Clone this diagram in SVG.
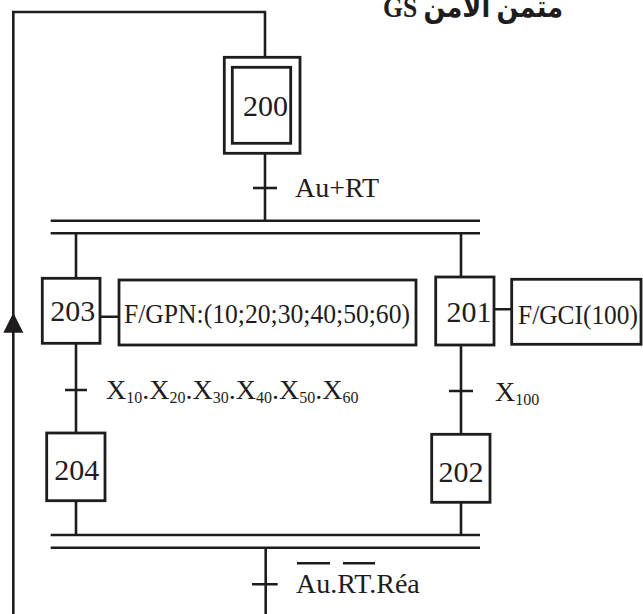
<svg xmlns="http://www.w3.org/2000/svg" width="643" height="614" viewBox="0 0 643 614">
<style>
.ln{stroke:#1f1c1d;stroke-width:2.6;fill:none}
.box{fill:#fff;stroke:#1f1c1d;stroke-width:2.8}
.t{font-family:"Liberation Serif","Times New Roman",serif;font-size:28px;fill:#1f1c1d}
.num{font-size:30px}
.sub{font-size:16px}
.title{font-family:"Liberation Serif","DejaVu Sans",serif;font-size:30px;font-weight:bold;fill:#1f1c1d}
</style>
<rect width="643" height="614" fill="#fff"/>
<g id="title">
<text class="title" x="563" y="17" direction="rtl" text-anchor="start" textLength="180" lengthAdjust="spacingAndGlyphs">متمن الأمن GS</text>
</g>
<g id="connectors">
<path class="ln" d="M13.3,614 V12 H265 V57.3"/>
<polygon points="13.3,312.7 3.3,332.7 23.3,332.7" fill="#1f1c1d"/>
<path class="ln" d="M265,153.3 V220.7"/>
<path class="ln" d="M253,188 H277"/>
<path class="ln" d="M50.7,220.7 H480 M50.7,233.3 H480"/>
<path class="ln" d="M76,233.3 V278.3 M461,233.3 V277"/>
<path class="ln" d="M100,316.7 H119 M494,309.3 H511.7"/>
<path class="ln" d="M76,343.3 V433 M65,390 H87"/>
<path class="ln" d="M461,345 V434.3 M449,391 H473"/>
<path class="ln" d="M76,500.7 V535 M461,502.3 V535"/>
<path class="ln" d="M50.7,535 H480 M50.7,547.7 H480"/>
<path class="ln" d="M265.7,547.7 V614 M252,584.3 H277.7"/>
</g>
<g id="step200">
<rect class="box" x="224.3" y="57.3" width="75.7" height="96"/>
<rect class="box" x="232.3" y="67.3" width="58.4" height="76"/>
<text class="t num" x="265.5" y="116" text-anchor="middle">200</text>
</g>
<g id="t200">
<text class="t" x="295" y="197">Au+RT</text>
</g>
<g id="step203">
<rect class="box" x="42.3" y="278.3" width="57.7" height="65"/>
<text class="t num" x="72.7" y="321" text-anchor="middle">203</text>
</g>
<g id="action203">
<rect class="box" x="119" y="280" width="297" height="65"/>
<text class="t" x="124" y="323" textLength="286" lengthAdjust="spacingAndGlyphs">F/GPN:(10;20;30;40;50;60)</text>
</g>
<g id="step201">
<rect class="box" x="435.7" y="277" width="58.3" height="68"/>
<text class="t num" x="469" y="321.7" text-anchor="middle">201</text>
</g>
<g id="action201">
<rect class="box" x="511.7" y="279.3" width="129.3" height="65"/>
<text class="t" x="518" y="324" textLength="120" lengthAdjust="spacingAndGlyphs">F/GCI(100)</text>
</g>
<g id="t203">
<text class="t" x="106" y="399" font-size="27">X<tspan class="sub" dy="4">10</tspan><tspan dy="-4">.X</tspan><tspan class="sub" dy="4">20</tspan><tspan dy="-4">.X</tspan><tspan class="sub" dy="4">30</tspan><tspan dy="-4">.X</tspan><tspan class="sub" dy="4">40</tspan><tspan dy="-4">.X</tspan><tspan class="sub" dy="4">50</tspan><tspan dy="-4">.X</tspan><tspan class="sub" dy="4">60</tspan></text>
</g>
<g id="t201">
<text class="t" x="495" y="401" font-size="27">X<tspan class="sub" dy="4">100</tspan></text>
</g>
<g id="step204">
<rect class="box" x="46.7" y="433" width="58.3" height="67.7"/>
<text class="t num" x="76.7" y="480" text-anchor="middle">204</text>
</g>
<g id="step202">
<rect class="box" x="431.7" y="434.3" width="58.3" height="68"/>
<text class="t num" x="461" y="481.7" text-anchor="middle">202</text>
</g>
<g id="tfinal">
<text class="t" x="296" y="593">Au.RT.Réa</text>
<path class="ln" d="M297,563.3 H330 M343,563.3 H375"/>
</g>
</svg>
